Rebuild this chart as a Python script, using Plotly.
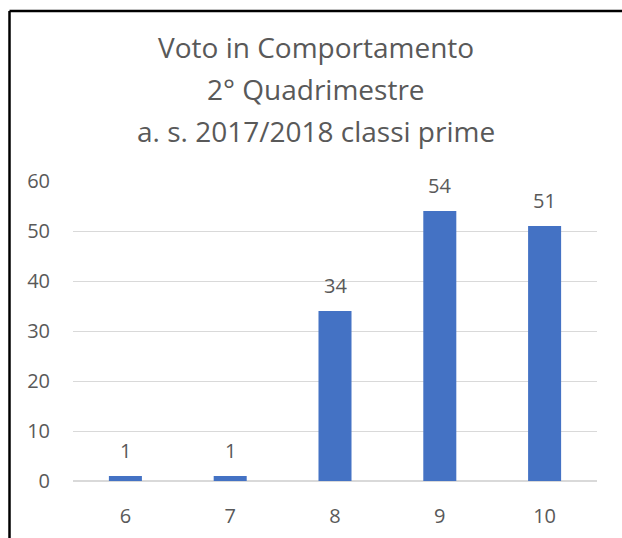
import plotly.graph_objects as go

# Voto in comportamento, 2° quadrimestre, classi prime
voti = ["6", "7", "8", "9", "10"]
studenti = [1, 1, 34, 54, 51]
titolo = ["Voto in Comportamento", "2° Quadrimestre", "a. s. 2017/2018 classi prime"]
y_ticks = [0, 10, 20, 30, 40, 50, 60]

W, H = 622, 538
L, R, T, B = 73, 25, 181, 57
plot_h = H - T - B
plot_w = W - L - R

FONT = "Open Sans"
GREY = "#595959"

fig = go.Figure(
    go.Bar(
        x=voti,
        y=studenti,
        marker=dict(color="#4472C4", line=dict(width=0)),
        hoverinfo="x+y",
    )
)

# value labels above each bar (category axis: x by position index)
for i, n in enumerate(studenti):
    fig.add_annotation(
        x=i, y=n, text=str(n), showarrow=False,
        yanchor="middle", yshift=26,
        font=dict(family=FONT, size=20, color=GREY),
    )

# three-line title, one annotation per line
for txt, py in zip(titolo, [47, 89, 131]):
    fig.add_annotation(
        xref="paper", yref="paper",
        x=(316 - L) / plot_w, y=(H - B - py) / plot_h,
        text=txt, showarrow=False, xanchor="center", yanchor="middle",
        font=dict(family=FONT, size=28, color=GREY),
    )

# chart frame (left and top edges)
fx = (9.5 - L) / plot_w
fy = (H - B - 11) / plot_h
fig.add_shape(type="line", xref="paper", yref="paper", x0=fx, x1=fx, y0=-1, y1=fy,
              line=dict(color="black", width=2.5))
fig.add_shape(type="line", xref="paper", yref="paper", x0=fx, x1=2, y0=fy, y1=fy,
              line=dict(color="black", width=2.5))

fig.update_layout(
    width=W, height=H,
    margin=dict(l=L, r=R, t=T, b=B),
    paper_bgcolor="white", plot_bgcolor="white",
    bargap=0.685,
    showlegend=False,
    font=dict(family=FONT, size=20, color=GREY),
    xaxis=dict(
        type="category", showgrid=False, showline=False, ticks="", automargin=False,
        tickfont=dict(family=FONT, size=20, color=GREY), ticklabelstandoff=21,
    ),
    yaxis=dict(
        range=[0, 60], tickvals=y_ticks, showgrid=True, gridcolor="#D9D9D9",
        gridwidth=1, zeroline=True, zerolinecolor="#D9D9D9", zerolinewidth=1.5,
        showline=False, ticks="", automargin=False,
        tickfont=dict(family=FONT, size=20, color=GREY),
        ticklabelstandoff=22,
    ),
)

fig.write_html("out.html")
